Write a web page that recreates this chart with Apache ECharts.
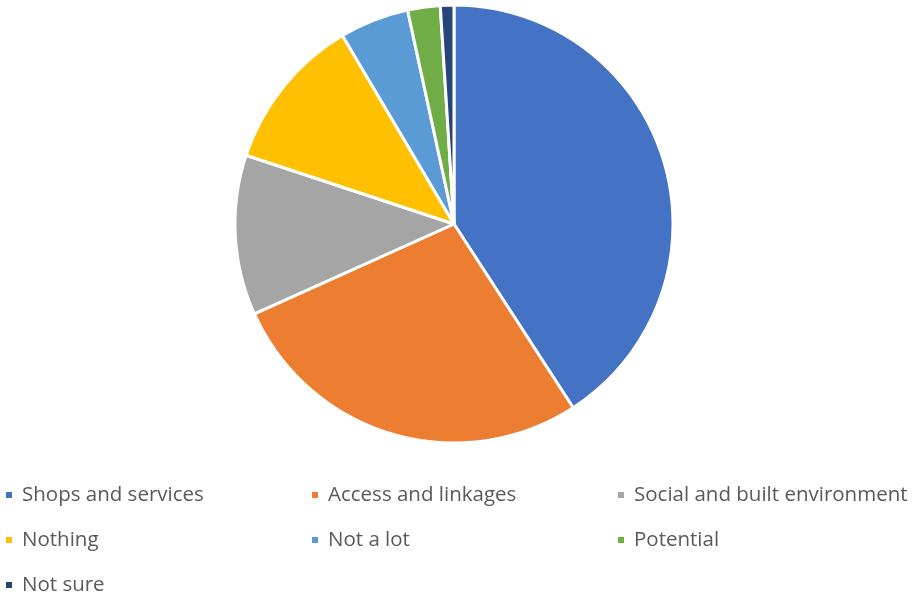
<!DOCTYPE html>
<html>
<head>
<meta charset="utf-8">
<script src="https://cdn.jsdelivr.net/npm/echarts@6/dist/echarts.min.js"></script>
<style>
  html, body { margin: 0; padding: 0; background: #ffffff; }
  #chart { width: 915px; height: 595px; }
</style>
</head>
<body>
<div id="chart"></div>
<script>
// Categories and their shares (%)
const categories = [
  'Shops and services',
  'Access and linkages',
  'Social and built environment',
  'Nothing',
  'Not a lot',
  'Potential',
  'Not sure'
];
const shares = [40.8, 27.4, 11.8, 11.4, 5.1, 2.4, 1.0];
const colors = ['#4472C4', '#ED7D31', '#A5A5A5', '#FFC000', '#5B9BD5', '#70AD47', '#264478'];

// Legend columns (left to right), items stacked top to bottom
const legendColumns = [
  ['Shops and services', 'Nothing', 'Not sure'],
  ['Access and linkages', 'Not a lot'],
  ['Social and built environment', 'Potential']
];
const legendLeft = [4, 310, 616];

const chart = echarts.init(document.getElementById('chart'));

const legendBase = {
  orient: 'vertical',
  top: 483,
  height: 130,
  padding: 0,
  icon: 'rect',
  itemWidth: 8,
  itemHeight: 8,
  itemGap: 21,
  textStyle: {
    color: '#595959',
    fontFamily: 'Open Sans',
    fontSize: 20.5,
    lineHeight: 24,
    padding: [0, 0, 0, 4]
  }
};

chart.setOption({
  animation: false,
  color: colors,
  legend: legendColumns.map((col, i) => Object.assign({}, legendBase, {
    left: legendLeft[i],
    data: col
  })),
  series: [{
    type: 'pie',
    center: [454, 224],
    radius: [0, 219],
    startAngle: 90,
    clockwise: true,
    label: { show: false },
    labelLine: { show: false },
    itemStyle: { borderColor: '#ffffff', borderWidth: 3 },
    emphasis: { disabled: true },
    data: categories.map((name, i) => ({ name: name, value: shares[i] }))
  }]
});
</script>
</body>
</html>
